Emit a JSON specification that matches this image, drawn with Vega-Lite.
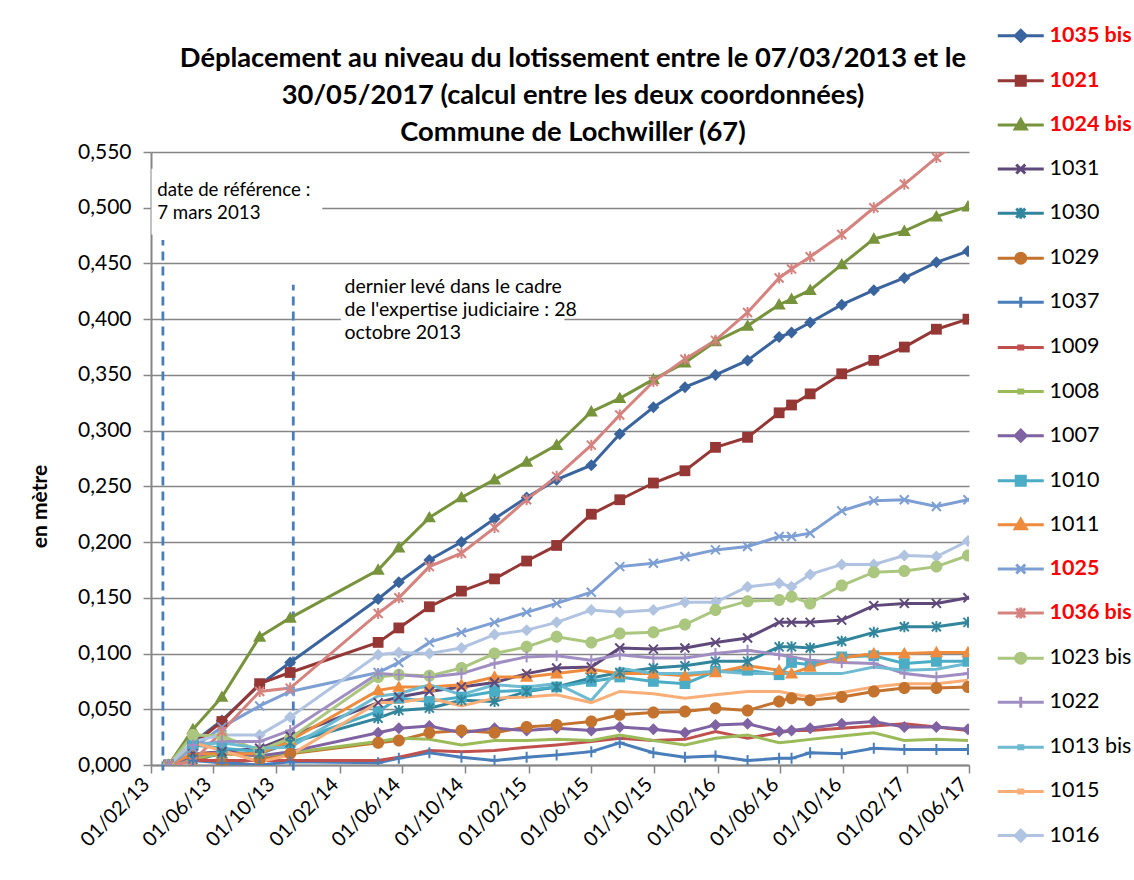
{
"$schema": "https://vega.github.io/schema/vega-lite/v6.json",
"autosize": {"type": "none"},
"width": 818, "height": 613,
"padding": {"left": 151, "top": 152, "right": 165, "bottom": 115},
"background": "white",
"config": {"font": "Lato", "view": {"stroke": null}},
"title": {"text": ["Déplacement au niveau du lotissement entre le 07/03/2013 et le", "30/05/2017 (calcul entre les deux coordonnées)", "Commune de Lochwiller (67)"], "font": "Lato", "fontSize": 27.3, "fontWeight": "bold", "lineHeight": 37, "offset": 10, "anchor": "middle", "frame": "group", "dx": 13, "dy": 131, "color": "#000000"},
"datasets": {"pts": [
{"s":"1035 bis","d":"2013-03-07","v":0},{"s":"1035 bis","d":"2013-04-23","v":0.020},{"s":"1035 bis","d":"2013-06-18","v":0.040},{"s":"1035 bis","d":"2013-08-30","v":0.072},{"s":"1035 bis","d":"2013-10-28","v":0.092},{"s":"1035 bis","d":"2014-04-16","v":0.149},{"s":"1035 bis","d":"2014-05-26","v":0.164},{"s":"1035 bis","d":"2014-07-24","v":0.184},{"s":"1035 bis","d":"2014-09-24","v":0.200},{"s":"1035 bis","d":"2014-11-27","v":0.221},{"s":"1035 bis","d":"2015-01-28","v":0.240},{"s":"1035 bis","d":"2015-03-27","v":0.256},{"s":"1035 bis","d":"2015-06-02","v":0.269},{"s":"1035 bis","d":"2015-07-27","v":0.297},{"s":"1035 bis","d":"2015-09-30","v":0.321},{"s":"1035 bis","d":"2015-11-30","v":0.339},{"s":"1035 bis","d":"2016-01-28","v":0.350},{"s":"1035 bis","d":"2016-03-30","v":0.363},{"s":"1035 bis","d":"2016-05-30","v":0.384},{"s":"1035 bis","d":"2016-06-23","v":0.388},{"s":"1035 bis","d":"2016-07-29","v":0.397},{"s":"1035 bis","d":"2016-09-28","v":0.413},{"s":"1035 bis","d":"2016-11-29","v":0.426},{"s":"1035 bis","d":"2017-01-27","v":0.437},{"s":"1035 bis","d":"2017-03-30","v":0.451},{"s":"1035 bis","d":"2017-05-30","v":0.461},
{"s":"1021","d":"2013-03-07","v":0},{"s":"1021","d":"2013-04-23","v":0.018},{"s":"1021","d":"2013-06-18","v":0.039},{"s":"1021","d":"2013-08-30","v":0.073},{"s":"1021","d":"2013-10-28","v":0.083},{"s":"1021","d":"2014-04-16","v":0.110},{"s":"1021","d":"2014-05-26","v":0.123},{"s":"1021","d":"2014-07-24","v":0.142},{"s":"1021","d":"2014-09-24","v":0.156},{"s":"1021","d":"2014-11-27","v":0.167},{"s":"1021","d":"2015-01-28","v":0.183},{"s":"1021","d":"2015-03-27","v":0.197},{"s":"1021","d":"2015-06-02","v":0.225},{"s":"1021","d":"2015-07-27","v":0.238},{"s":"1021","d":"2015-09-30","v":0.253},{"s":"1021","d":"2015-11-30","v":0.264},{"s":"1021","d":"2016-01-28","v":0.285},{"s":"1021","d":"2016-03-30","v":0.294},{"s":"1021","d":"2016-05-30","v":0.316},{"s":"1021","d":"2016-06-23","v":0.323},{"s":"1021","d":"2016-07-29","v":0.333},{"s":"1021","d":"2016-09-28","v":0.351},{"s":"1021","d":"2016-11-29","v":0.363},{"s":"1021","d":"2017-01-27","v":0.375},{"s":"1021","d":"2017-03-30","v":0.391},{"s":"1021","d":"2017-05-30","v":0.400},
{"s":"1024 bis","d":"2013-03-07","v":0},{"s":"1024 bis","d":"2013-04-23","v":0.032},{"s":"1024 bis","d":"2013-06-18","v":0.061},{"s":"1024 bis","d":"2013-08-30","v":0.115},{"s":"1024 bis","d":"2013-10-28","v":0.132},{"s":"1024 bis","d":"2014-04-16","v":0.175},{"s":"1024 bis","d":"2014-05-26","v":0.195},{"s":"1024 bis","d":"2014-07-24","v":0.222},{"s":"1024 bis","d":"2014-09-24","v":0.240},{"s":"1024 bis","d":"2014-11-27","v":0.256},{"s":"1024 bis","d":"2015-01-28","v":0.272},{"s":"1024 bis","d":"2015-03-27","v":0.287},{"s":"1024 bis","d":"2015-06-02","v":0.317},{"s":"1024 bis","d":"2015-07-27","v":0.329},{"s":"1024 bis","d":"2015-09-30","v":0.346},{"s":"1024 bis","d":"2015-11-30","v":0.361},{"s":"1024 bis","d":"2016-01-28","v":0.380},{"s":"1024 bis","d":"2016-03-30","v":0.394},{"s":"1024 bis","d":"2016-05-30","v":0.413},{"s":"1024 bis","d":"2016-06-23","v":0.418},{"s":"1024 bis","d":"2016-07-29","v":0.426},{"s":"1024 bis","d":"2016-09-28","v":0.449},{"s":"1024 bis","d":"2016-11-29","v":0.472},{"s":"1024 bis","d":"2017-01-27","v":0.479},{"s":"1024 bis","d":"2017-03-30","v":0.492},{"s":"1024 bis","d":"2017-05-30","v":0.501},
{"s":"1031","d":"2013-03-07","v":0},{"s":"1031","d":"2013-04-23","v":0.010},{"s":"1031","d":"2013-06-18","v":0.012},{"s":"1031","d":"2013-08-30","v":0.015},{"s":"1031","d":"2013-10-28","v":0.026},{"s":"1031","d":"2014-04-16","v":0.056},{"s":"1031","d":"2014-05-26","v":0.061},{"s":"1031","d":"2014-07-24","v":0.066},{"s":"1031","d":"2014-09-24","v":0.070},{"s":"1031","d":"2014-11-27","v":0.074},{"s":"1031","d":"2015-01-28","v":0.082},{"s":"1031","d":"2015-03-27","v":0.087},{"s":"1031","d":"2015-06-02","v":0.088},{"s":"1031","d":"2015-07-27","v":0.105},{"s":"1031","d":"2015-09-30","v":0.104},{"s":"1031","d":"2015-11-30","v":0.105},{"s":"1031","d":"2016-01-28","v":0.110},{"s":"1031","d":"2016-03-30","v":0.114},{"s":"1031","d":"2016-05-30","v":0.128},{"s":"1031","d":"2016-06-23","v":0.128},{"s":"1031","d":"2016-07-29","v":0.128},{"s":"1031","d":"2016-09-28","v":0.130},{"s":"1031","d":"2016-11-29","v":0.143},{"s":"1031","d":"2017-01-27","v":0.145},{"s":"1031","d":"2017-03-30","v":0.145},{"s":"1031","d":"2017-05-30","v":0.150},
{"s":"1030","d":"2013-03-07","v":0},{"s":"1030","d":"2013-04-23","v":0.005},{"s":"1030","d":"2013-06-18","v":0.010},{"s":"1030","d":"2013-08-30","v":0.010},{"s":"1030","d":"2013-10-28","v":0.020},{"s":"1030","d":"2014-04-16","v":0.042},{"s":"1030","d":"2014-05-26","v":0.049},{"s":"1030","d":"2014-07-24","v":0.051},{"s":"1030","d":"2014-09-24","v":0.058},{"s":"1030","d":"2014-11-27","v":0.057},{"s":"1030","d":"2015-01-28","v":0.066},{"s":"1030","d":"2015-03-27","v":0.070},{"s":"1030","d":"2015-06-02","v":0.078},{"s":"1030","d":"2015-07-27","v":0.083},{"s":"1030","d":"2015-09-30","v":0.087},{"s":"1030","d":"2015-11-30","v":0.089},{"s":"1030","d":"2016-01-28","v":0.093},{"s":"1030","d":"2016-03-30","v":0.093},{"s":"1030","d":"2016-05-30","v":0.106},{"s":"1030","d":"2016-06-23","v":0.106},{"s":"1030","d":"2016-07-29","v":0.105},{"s":"1030","d":"2016-09-28","v":0.111},{"s":"1030","d":"2016-11-29","v":0.119},{"s":"1030","d":"2017-01-27","v":0.124},{"s":"1030","d":"2017-03-30","v":0.124},{"s":"1030","d":"2017-05-30","v":0.128},
{"s":"1029","d":"2013-03-07","v":0},{"s":"1029","d":"2013-04-23","v":0.008},{"s":"1029","d":"2013-06-18","v":0.001},{"s":"1029","d":"2013-08-30","v":0.005},{"s":"1029","d":"2013-10-28","v":0.010},{"s":"1029","d":"2014-04-16","v":0.020},{"s":"1029","d":"2014-05-26","v":0.022},{"s":"1029","d":"2014-07-24","v":0.029},{"s":"1029","d":"2014-09-24","v":0.031},{"s":"1029","d":"2014-11-27","v":0.029},{"s":"1029","d":"2015-01-28","v":0.034},{"s":"1029","d":"2015-03-27","v":0.036},{"s":"1029","d":"2015-06-02","v":0.039},{"s":"1029","d":"2015-07-27","v":0.045},{"s":"1029","d":"2015-09-30","v":0.047},{"s":"1029","d":"2015-11-30","v":0.048},{"s":"1029","d":"2016-01-28","v":0.051},{"s":"1029","d":"2016-03-30","v":0.049},{"s":"1029","d":"2016-05-30","v":0.057},{"s":"1029","d":"2016-06-23","v":0.060},{"s":"1029","d":"2016-07-29","v":0.058},{"s":"1029","d":"2016-09-28","v":0.061},{"s":"1029","d":"2016-11-29","v":0.066},{"s":"1029","d":"2017-01-27","v":0.069},{"s":"1029","d":"2017-03-30","v":0.069},{"s":"1029","d":"2017-05-30","v":0.070},
{"s":"1037","d":"2013-03-07","v":0},{"s":"1037","d":"2013-04-23","v":0.004},{"s":"1037","d":"2013-06-18","v":0.002},{"s":"1037","d":"2013-08-30","v":0.000},{"s":"1037","d":"2013-10-28","v":0.003},{"s":"1037","d":"2014-04-16","v":0.002},{"s":"1037","d":"2014-05-26","v":0.006},{"s":"1037","d":"2014-07-24","v":0.011},{"s":"1037","d":"2014-09-24","v":0.007},{"s":"1037","d":"2014-11-27","v":0.004},{"s":"1037","d":"2015-01-28","v":0.007},{"s":"1037","d":"2015-03-27","v":0.009},{"s":"1037","d":"2015-06-02","v":0.012},{"s":"1037","d":"2015-07-27","v":0.020},{"s":"1037","d":"2015-09-30","v":0.011},{"s":"1037","d":"2015-11-30","v":0.007},{"s":"1037","d":"2016-01-28","v":0.008},{"s":"1037","d":"2016-03-30","v":0.004},{"s":"1037","d":"2016-05-30","v":0.006},{"s":"1037","d":"2016-06-23","v":0.006},{"s":"1037","d":"2016-07-29","v":0.011},{"s":"1037","d":"2016-09-28","v":0.010},{"s":"1037","d":"2016-11-29","v":0.015},{"s":"1037","d":"2017-01-27","v":0.014},{"s":"1037","d":"2017-03-30","v":0.014},{"s":"1037","d":"2017-05-30","v":0.014},
{"s":"1009","d":"2013-03-07","v":0},{"s":"1009","d":"2013-04-23","v":0.004},{"s":"1009","d":"2013-06-18","v":0.004},{"s":"1009","d":"2013-08-30","v":0.004},{"s":"1009","d":"2013-10-28","v":0.004},{"s":"1009","d":"2014-04-16","v":0.004},{"s":"1009","d":"2014-05-26","v":0.007},{"s":"1009","d":"2014-07-24","v":0.013},{"s":"1009","d":"2014-09-24","v":0.012},{"s":"1009","d":"2014-11-27","v":0.013},{"s":"1009","d":"2015-01-28","v":0.016},{"s":"1009","d":"2015-03-27","v":0.018},{"s":"1009","d":"2015-06-02","v":0.021},{"s":"1009","d":"2015-07-27","v":0.024},{"s":"1009","d":"2015-09-30","v":0.022},{"s":"1009","d":"2015-11-30","v":0.023},{"s":"1009","d":"2016-01-28","v":0.030},{"s":"1009","d":"2016-03-30","v":0.024},{"s":"1009","d":"2016-05-30","v":0.029},{"s":"1009","d":"2016-06-23","v":0.031},{"s":"1009","d":"2016-07-29","v":0.031},{"s":"1009","d":"2016-09-28","v":0.033},{"s":"1009","d":"2016-11-29","v":0.035},{"s":"1009","d":"2017-01-27","v":0.037},{"s":"1009","d":"2017-03-30","v":0.034},{"s":"1009","d":"2017-05-30","v":0.031},
{"s":"1008","d":"2013-03-07","v":0},{"s":"1008","d":"2013-04-23","v":0.006},{"s":"1008","d":"2013-06-18","v":0.010},{"s":"1008","d":"2013-08-30","v":0.008},{"s":"1008","d":"2013-10-28","v":0.011},{"s":"1008","d":"2014-04-16","v":0.021},{"s":"1008","d":"2014-05-26","v":0.024},{"s":"1008","d":"2014-07-24","v":0.023},{"s":"1008","d":"2014-09-24","v":0.018},{"s":"1008","d":"2014-11-27","v":0.022},{"s":"1008","d":"2015-01-28","v":0.022},{"s":"1008","d":"2015-03-27","v":0.023},{"s":"1008","d":"2015-06-02","v":0.022},{"s":"1008","d":"2015-07-27","v":0.027},{"s":"1008","d":"2015-09-30","v":0.022},{"s":"1008","d":"2015-11-30","v":0.018},{"s":"1008","d":"2016-01-28","v":0.024},{"s":"1008","d":"2016-03-30","v":0.027},{"s":"1008","d":"2016-05-30","v":0.020},{"s":"1008","d":"2016-06-23","v":0.021},{"s":"1008","d":"2016-07-29","v":0.023},{"s":"1008","d":"2016-09-28","v":0.026},{"s":"1008","d":"2016-11-29","v":0.029},{"s":"1008","d":"2017-01-27","v":0.022},{"s":"1008","d":"2017-03-30","v":0.023},{"s":"1008","d":"2017-05-30","v":0.022},
{"s":"1007","d":"2013-03-07","v":0},{"s":"1007","d":"2013-04-23","v":0.008},{"s":"1007","d":"2013-06-18","v":0.012},{"s":"1007","d":"2013-08-30","v":0.008},{"s":"1007","d":"2013-10-28","v":0.012},{"s":"1007","d":"2014-04-16","v":0.029},{"s":"1007","d":"2014-05-26","v":0.033},{"s":"1007","d":"2014-07-24","v":0.035},{"s":"1007","d":"2014-09-24","v":0.029},{"s":"1007","d":"2014-11-27","v":0.033},{"s":"1007","d":"2015-01-28","v":0.031},{"s":"1007","d":"2015-03-27","v":0.033},{"s":"1007","d":"2015-06-02","v":0.031},{"s":"1007","d":"2015-07-27","v":0.034},{"s":"1007","d":"2015-09-30","v":0.032},{"s":"1007","d":"2015-11-30","v":0.029},{"s":"1007","d":"2016-01-28","v":0.036},{"s":"1007","d":"2016-03-30","v":0.037},{"s":"1007","d":"2016-05-30","v":0.030},{"s":"1007","d":"2016-06-23","v":0.031},{"s":"1007","d":"2016-07-29","v":0.033},{"s":"1007","d":"2016-09-28","v":0.037},{"s":"1007","d":"2016-11-29","v":0.039},{"s":"1007","d":"2017-01-27","v":0.034},{"s":"1007","d":"2017-03-30","v":0.034},{"s":"1007","d":"2017-05-30","v":0.032},
{"s":"1010","d":"2013-03-07","v":0},{"s":"1010","d":"2013-04-23","v":0.018},{"s":"1010","d":"2013-06-18","v":0.015},{"s":"1010","d":"2013-08-30","v":0.012},{"s":"1010","d":"2013-10-28","v":0.020},{"s":"1010","d":"2014-04-16","v":0.048},{"s":"1010","d":"2014-05-26","v":0.060},{"s":"1010","d":"2014-07-24","v":0.057},{"s":"1010","d":"2014-09-24","v":0.061},{"s":"1010","d":"2014-11-27","v":0.066},{"s":"1010","d":"2015-01-28","v":0.067},{"s":"1010","d":"2015-03-27","v":0.070},{"s":"1010","d":"2015-06-02","v":0.075},{"s":"1010","d":"2015-07-27","v":0.079},{"s":"1010","d":"2015-09-30","v":0.075},{"s":"1010","d":"2015-11-30","v":0.073},{"s":"1010","d":"2016-01-28","v":0.084},{"s":"1010","d":"2016-03-30","v":0.085},{"s":"1010","d":"2016-05-30","v":0.081},{"s":"1010","d":"2016-06-23","v":0.092},{"s":"1010","d":"2016-07-29","v":0.090},{"s":"1010","d":"2016-09-28","v":0.097},{"s":"1010","d":"2016-11-29","v":0.098},{"s":"1010","d":"2017-01-27","v":0.091},{"s":"1010","d":"2017-03-30","v":0.093},{"s":"1010","d":"2017-05-30","v":0.093},
{"s":"1011","d":"2013-03-07","v":0},{"s":"1011","d":"2013-04-23","v":0.010},{"s":"1011","d":"2013-06-18","v":0.010},{"s":"1011","d":"2013-08-30","v":0.010},{"s":"1011","d":"2013-10-28","v":0.022},{"s":"1011","d":"2014-04-16","v":0.067},{"s":"1011","d":"2014-05-26","v":0.070},{"s":"1011","d":"2014-07-24","v":0.070},{"s":"1011","d":"2014-09-24","v":0.072},{"s":"1011","d":"2014-11-27","v":0.079},{"s":"1011","d":"2015-01-28","v":0.079},{"s":"1011","d":"2015-03-27","v":0.082},{"s":"1011","d":"2015-06-02","v":0.086},{"s":"1011","d":"2015-07-27","v":0.082},{"s":"1011","d":"2015-09-30","v":0.082},{"s":"1011","d":"2015-11-30","v":0.080},{"s":"1011","d":"2016-01-28","v":0.083},{"s":"1011","d":"2016-03-30","v":0.089},{"s":"1011","d":"2016-05-30","v":0.085},{"s":"1011","d":"2016-06-23","v":0.082},{"s":"1011","d":"2016-07-29","v":0.088},{"s":"1011","d":"2016-09-28","v":0.096},{"s":"1011","d":"2016-11-29","v":0.100},{"s":"1011","d":"2017-01-27","v":0.100},{"s":"1011","d":"2017-03-30","v":0.101},{"s":"1011","d":"2017-05-30","v":0.101},
{"s":"1025","d":"2013-03-07","v":0},{"s":"1025","d":"2013-04-23","v":0.015},{"s":"1025","d":"2013-06-18","v":0.034},{"s":"1025","d":"2013-08-30","v":0.053},{"s":"1025","d":"2013-10-28","v":0.066},{"s":"1025","d":"2014-04-16","v":0.083},{"s":"1025","d":"2014-05-26","v":0.092},{"s":"1025","d":"2014-07-24","v":0.110},{"s":"1025","d":"2014-09-24","v":0.119},{"s":"1025","d":"2014-11-27","v":0.128},{"s":"1025","d":"2015-01-28","v":0.137},{"s":"1025","d":"2015-03-27","v":0.145},{"s":"1025","d":"2015-06-02","v":0.155},{"s":"1025","d":"2015-07-27","v":0.178},{"s":"1025","d":"2015-09-30","v":0.181},{"s":"1025","d":"2015-11-30","v":0.187},{"s":"1025","d":"2016-01-28","v":0.193},{"s":"1025","d":"2016-03-30","v":0.196},{"s":"1025","d":"2016-05-30","v":0.205},{"s":"1025","d":"2016-06-23","v":0.205},{"s":"1025","d":"2016-07-29","v":0.208},{"s":"1025","d":"2016-09-28","v":0.228},{"s":"1025","d":"2016-11-29","v":0.237},{"s":"1025","d":"2017-01-27","v":0.238},{"s":"1025","d":"2017-03-30","v":0.232},{"s":"1025","d":"2017-05-30","v":0.238},
{"s":"1036 bis","d":"2013-03-07","v":0},{"s":"1036 bis","d":"2013-04-23","v":0.003},{"s":"1036 bis","d":"2013-06-18","v":0.030},{"s":"1036 bis","d":"2013-08-30","v":0.066},{"s":"1036 bis","d":"2013-10-28","v":0.069},{"s":"1036 bis","d":"2014-04-16","v":0.136},{"s":"1036 bis","d":"2014-05-26","v":0.150},{"s":"1036 bis","d":"2014-07-24","v":0.178},{"s":"1036 bis","d":"2014-09-24","v":0.190},{"s":"1036 bis","d":"2014-11-27","v":0.213},{"s":"1036 bis","d":"2015-01-28","v":0.238},{"s":"1036 bis","d":"2015-03-27","v":0.259},{"s":"1036 bis","d":"2015-06-02","v":0.287},{"s":"1036 bis","d":"2015-07-27","v":0.314},{"s":"1036 bis","d":"2015-09-30","v":0.344},{"s":"1036 bis","d":"2015-11-30","v":0.364},{"s":"1036 bis","d":"2016-01-28","v":0.381},{"s":"1036 bis","d":"2016-03-30","v":0.406},{"s":"1036 bis","d":"2016-05-30","v":0.437},{"s":"1036 bis","d":"2016-06-23","v":0.445},{"s":"1036 bis","d":"2016-07-29","v":0.456},{"s":"1036 bis","d":"2016-09-28","v":0.476},{"s":"1036 bis","d":"2016-11-29","v":0.500},{"s":"1036 bis","d":"2017-01-27","v":0.521},{"s":"1036 bis","d":"2017-03-30","v":0.545},{"s":"1036 bis","d":"2017-05-30","v":0.565},
{"s":"1023 bis","d":"2013-03-07","v":0},{"s":"1023 bis","d":"2013-04-23","v":0.027},{"s":"1023 bis","d":"2013-06-18","v":0.026},{"s":"1023 bis","d":"2013-08-30","v":0.013},{"s":"1023 bis","d":"2013-10-28","v":0.024},{"s":"1023 bis","d":"2014-04-16","v":0.079},{"s":"1023 bis","d":"2014-05-26","v":0.081},{"s":"1023 bis","d":"2014-07-24","v":0.080},{"s":"1023 bis","d":"2014-09-24","v":0.087},{"s":"1023 bis","d":"2014-11-27","v":0.100},{"s":"1023 bis","d":"2015-01-28","v":0.106},{"s":"1023 bis","d":"2015-03-27","v":0.115},{"s":"1023 bis","d":"2015-06-02","v":0.110},{"s":"1023 bis","d":"2015-07-27","v":0.118},{"s":"1023 bis","d":"2015-09-30","v":0.119},{"s":"1023 bis","d":"2015-11-30","v":0.126},{"s":"1023 bis","d":"2016-01-28","v":0.139},{"s":"1023 bis","d":"2016-03-30","v":0.147},{"s":"1023 bis","d":"2016-05-30","v":0.148},{"s":"1023 bis","d":"2016-06-23","v":0.151},{"s":"1023 bis","d":"2016-07-29","v":0.145},{"s":"1023 bis","d":"2016-09-28","v":0.161},{"s":"1023 bis","d":"2016-11-29","v":0.173},{"s":"1023 bis","d":"2017-01-27","v":0.174},{"s":"1023 bis","d":"2017-03-30","v":0.178},{"s":"1023 bis","d":"2017-05-30","v":0.188},
{"s":"1022","d":"2013-03-07","v":0},{"s":"1022","d":"2013-04-23","v":0.018},{"s":"1022","d":"2013-06-18","v":0.021},{"s":"1022","d":"2013-08-30","v":0.021},{"s":"1022","d":"2013-10-28","v":0.031},{"s":"1022","d":"2014-04-16","v":0.082},{"s":"1022","d":"2014-05-26","v":0.081},{"s":"1022","d":"2014-07-24","v":0.079},{"s":"1022","d":"2014-09-24","v":0.082},{"s":"1022","d":"2014-11-27","v":0.091},{"s":"1022","d":"2015-01-28","v":0.097},{"s":"1022","d":"2015-03-27","v":0.098},{"s":"1022","d":"2015-06-02","v":0.094},{"s":"1022","d":"2015-07-27","v":0.099},{"s":"1022","d":"2015-09-30","v":0.096},{"s":"1022","d":"2015-11-30","v":0.096},{"s":"1022","d":"2016-01-28","v":0.100},{"s":"1022","d":"2016-03-30","v":0.103},{"s":"1022","d":"2016-05-30","v":0.099},{"s":"1022","d":"2016-06-23","v":0.097},{"s":"1022","d":"2016-07-29","v":0.094},{"s":"1022","d":"2016-09-28","v":0.092},{"s":"1022","d":"2016-11-29","v":0.091},{"s":"1022","d":"2017-01-27","v":0.082},{"s":"1022","d":"2017-03-30","v":0.079},{"s":"1022","d":"2017-05-30","v":0.082},
{"s":"1013 bis","d":"2013-03-07","v":0},{"s":"1013 bis","d":"2013-04-23","v":0.018},{"s":"1013 bis","d":"2013-06-18","v":0.020},{"s":"1013 bis","d":"2013-08-30","v":0.015},{"s":"1013 bis","d":"2013-10-28","v":0.016},{"s":"1013 bis","d":"2014-04-16","v":0.062},{"s":"1013 bis","d":"2014-05-26","v":0.064},{"s":"1013 bis","d":"2014-07-24","v":0.072},{"s":"1013 bis","d":"2014-09-24","v":0.063},{"s":"1013 bis","d":"2014-11-27","v":0.072},{"s":"1013 bis","d":"2015-01-28","v":0.070},{"s":"1013 bis","d":"2015-03-27","v":0.073},{"s":"1013 bis","d":"2015-06-02","v":0.058},{"s":"1013 bis","d":"2015-07-27","v":0.087},{"s":"1013 bis","d":"2015-09-30","v":0.082},{"s":"1013 bis","d":"2015-11-30","v":0.082},{"s":"1013 bis","d":"2016-01-28","v":0.084},{"s":"1013 bis","d":"2016-03-30","v":0.082},{"s":"1013 bis","d":"2016-05-30","v":0.082},{"s":"1013 bis","d":"2016-06-23","v":0.082},{"s":"1013 bis","d":"2016-07-29","v":0.082},{"s":"1013 bis","d":"2016-09-28","v":0.082},{"s":"1013 bis","d":"2016-11-29","v":0.088},{"s":"1013 bis","d":"2017-01-27","v":0.085},{"s":"1013 bis","d":"2017-03-30","v":0.086},{"s":"1013 bis","d":"2017-05-30","v":0.091},
{"s":"1015","d":"2013-03-07","v":0},{"s":"1015","d":"2013-04-23","v":0.020},{"s":"1015","d":"2013-06-18","v":0.013},{"s":"1015","d":"2013-08-30","v":0.003},{"s":"1015","d":"2013-10-28","v":0.009},{"s":"1015","d":"2014-04-16","v":0.056},{"s":"1015","d":"2014-05-26","v":0.056},{"s":"1015","d":"2014-07-24","v":0.060},{"s":"1015","d":"2014-09-24","v":0.053},{"s":"1015","d":"2014-11-27","v":0.060},{"s":"1015","d":"2015-01-28","v":0.061},{"s":"1015","d":"2015-03-27","v":0.063},{"s":"1015","d":"2015-06-02","v":0.056},{"s":"1015","d":"2015-07-27","v":0.066},{"s":"1015","d":"2015-09-30","v":0.064},{"s":"1015","d":"2015-11-30","v":0.060},{"s":"1015","d":"2016-01-28","v":0.063},{"s":"1015","d":"2016-03-30","v":0.066},{"s":"1015","d":"2016-05-30","v":0.066},{"s":"1015","d":"2016-06-23","v":0.064},{"s":"1015","d":"2016-07-29","v":0.061},{"s":"1015","d":"2016-09-28","v":0.065},{"s":"1015","d":"2016-11-29","v":0.070},{"s":"1015","d":"2017-01-27","v":0.073},{"s":"1015","d":"2017-03-30","v":0.073},{"s":"1015","d":"2017-05-30","v":0.076},
{"s":"1016","d":"2013-03-07","v":0},{"s":"1016","d":"2013-04-23","v":0.021},{"s":"1016","d":"2013-06-18","v":0.027},{"s":"1016","d":"2013-08-30","v":0.027},{"s":"1016","d":"2013-10-28","v":0.043},{"s":"1016","d":"2014-04-16","v":0.099},{"s":"1016","d":"2014-05-26","v":0.101},{"s":"1016","d":"2014-07-24","v":0.100},{"s":"1016","d":"2014-09-24","v":0.105},{"s":"1016","d":"2014-11-27","v":0.117},{"s":"1016","d":"2015-01-28","v":0.121},{"s":"1016","d":"2015-03-27","v":0.128},{"s":"1016","d":"2015-06-02","v":0.139},{"s":"1016","d":"2015-07-27","v":0.137},{"s":"1016","d":"2015-09-30","v":0.139},{"s":"1016","d":"2015-11-30","v":0.146},{"s":"1016","d":"2016-01-28","v":0.146},{"s":"1016","d":"2016-03-30","v":0.160},{"s":"1016","d":"2016-05-30","v":0.163},{"s":"1016","d":"2016-06-23","v":0.160},{"s":"1016","d":"2016-07-29","v":0.171},{"s":"1016","d":"2016-09-28","v":0.180},{"s":"1016","d":"2016-11-29","v":0.180},{"s":"1016","d":"2017-01-27","v":0.188},{"s":"1016","d":"2017-03-30","v":0.187},{"s":"1016","d":"2017-05-30","v":0.201}
]},
"data": {"name": "pts"},
"encoding": {
  "x": {"field": "d", "type": "temporal",
    "scale": {"domain": [{"year": 2013, "month": 2, "date": 1}, {"year": 2017, "month": 6, "date": 1}], "nice": false},
    "axis": {"title": null, "format": "%d/%m/%y", "labelAngle": -45, "labelBaseline": "middle", "labelOffset": -5, "labelFontSize": 20, "labelFont": "Lato", "labelColor": "#000000", "grid": false, "domainColor": "#868686", "domainWidth": 2, "tickColor": "#868686", "tickWidth": 1.5, "tickSize": 8, "labelPadding": 8, "labelOverlap": false, "labelBound": false, "labelFlush": false,
      "values": [{"year":2013,"month":2,"date":1},{"year":2013,"month":6,"date":1},{"year":2013,"month":10,"date":1},{"year":2014,"month":2,"date":1},{"year":2014,"month":6,"date":1},{"year":2014,"month":10,"date":1},{"year":2015,"month":2,"date":1},{"year":2015,"month":6,"date":1},{"year":2015,"month":10,"date":1},{"year":2016,"month":2,"date":1},{"year":2016,"month":6,"date":1},{"year":2016,"month":10,"date":1},{"year":2017,"month":2,"date":1},{"year":2017,"month":6,"date":1}]}},
  "y": {"field": "v", "type": "quantitative",
    "scale": {"domain": [0, 0.55], "nice": false},
    "axis": {"title": "en mètre", "titleFont": "Lato", "titleFontSize": 21, "titleFontWeight": "bold", "titleColor": "#000000", "titleX": -111, "titleY": 354, "titleAngle": -90, "titleBaseline": "middle", "titleAlign": "center",
      "values": [0, 0.05, 0.1, 0.15, 0.2, 0.25, 0.3, 0.35, 0.4, 0.45, 0.5, 0.55],
      "labelExpr": "replace(format(datum.value, '.3f'), '.', ',')", "labelFontSize": 21, "labelFont": "Lato", "labelColor": "#000000", "labelPadding": 12,
      "grid": true, "gridColor": "#868686", "gridWidth": 1.5, "domainColor": "#868686", "domainWidth": 2, "tickColor": "#868686", "tickWidth": 1.5, "tickSize": 8}}
},
"layer": [
  {"transform": [{"filter": "datum.s === '1035 bis' && datum.v === 0"}], "mark": {"type": "rect", "fill": "white"},
   "encoding": {"x": {"datum": {"year": 2013, "month": 2, "date": 2}, "type": "temporal"}, "x2": {"datum": {"year": 2013, "month": 12, "date": 29}}, "y": {"datum": 0.476, "type": "quantitative"}, "y2": {"datum": 0.535}}},
  {"transform": [{"filter": "datum.s === '1035 bis' && datum.v === 0"}], "mark": {"type": "rect", "fill": "white"},
   "encoding": {"x": {"datum": {"year": 2014, "month": 2, "date": 3}, "type": "temporal"}, "x2": {"datum": {"year": 2015, "month": 4, "date": 11}}, "y": {"datum": 0.36, "type": "quantitative"}, "y2": {"datum": 0.445}}},
  {"transform": [{"filter": "datum.s === '1035 bis' && datum.v === 0"}], "mark": {"type": "rule", "color": "#4A7EBB", "strokeWidth": 2.8, "strokeDash": [9, 6]},
   "encoding": {"x": {"datum": {"year": 2013, "month": 2, "date": 24}, "type": "temporal"}, "y": {"datum": -0.005, "type": "quantitative"}, "y2": {"datum": 0.471}}},
  {"transform": [{"filter": "datum.s === '1035 bis' && datum.v === 0"}], "mark": {"type": "rule", "color": "#4A7EBB", "strokeWidth": 2.8, "strokeDash": [9, 6]},
   "encoding": {"x": {"datum": {"year": 2013, "month": 11, "date": 3}, "type": "temporal"}, "y": {"datum": -0.005, "type": "quantitative"}, "y2": {"datum": 0.431}}},
  {"mark": {"type": "line", "strokeWidth": 3, "clip": true},
   "encoding": {"color": {"field": "s", "type": "nominal",
      "scale": {"domain": ["1035 bis","1021","1024 bis","1031","1030","1029","1037","1009","1008","1007","1010","1011","1025","1036 bis","1023 bis","1022","1013 bis","1015","1016"],
                "range": ["#3A649E","#953735","#77933C","#5F497A","#31859C","#C4732F","#4A7EBB","#C0504D","#9BBB59","#7E62A1","#4BACC6","#EE8B3C","#7D9FD3","#D4837F","#ABC67F","#A08EC3","#6EBBD1","#F9AE77","#B0C4E2"]},
      "legend": {"orient": "none", "legendX": 859, "legendY": -127, "title": null, "labelFont": "Lato", "labelFontSize": 21.5, "rowPadding": 21.1, "symbolSize": 100, "symbolStrokeWidth": 3, "labelOffset": 18, "columns": 1,
        "encode": {"labels": {"update": {"fill": {"signal": "indexof(['1035 bis','1021','1024 bis','1025','1036 bis'], datum.value) >= 0 ? '#FF0000' : '#000000'"}, "fontWeight": {"signal": "indexof(['1035 bis','1021','1024 bis','1025','1036 bis'], datum.value) >= 0 ? 'bold' : 'normal'"}}}}}},
     "detail": {"field": "s"}}},
  {"transform": [{"filter": "false"}],
   "mark": {"type": "point", "filled": false, "strokeWidth": 3, "opacity": 1},
   "encoding": {"color": {"field": "s", "type": "nominal",
      "legend": {"orient": "none", "legendX": 859, "legendY": -127, "title": null, "labelFont": "Lato", "labelFontSize": 21.5, "rowPadding": 21.1, "symbolSize": 100, "symbolStrokeWidth": 3, "labelOffset": 18, "columns": 1,
        "encode": {"labels": {"update": {"fill": {"signal": "indexof(['1035 bis','1021','1024 bis','1025','1036 bis'], datum.value) >= 0 ? '#FF0000' : '#000000'"}, "fontWeight": {"signal": "indexof(['1035 bis','1021','1024 bis','1025','1036 bis'], datum.value) >= 0 ? 'bold' : 'normal'"}}}}}},
     "shape": {"field": "s", "type": "nominal",
      "legend": {"orient": "none", "legendX": 859, "legendY": -127, "title": null, "labelFont": "Lato", "labelFontSize": 21.5, "rowPadding": 21.1, "symbolSize": 100, "symbolStrokeWidth": 3, "labelOffset": 18, "columns": 1,
        "encode": {"labels": {"update": {"fill": {"signal": "indexof(['1035 bis','1021','1024 bis','1025','1036 bis'], datum.value) >= 0 ? '#FF0000' : '#000000'"}, "fontWeight": {"signal": "indexof(['1035 bis','1021','1024 bis','1025','1036 bis'], datum.value) >= 0 ? 'bold' : 'normal'"}}}}},
      "scale": {"domain": ["1035 bis","1021","1024 bis","1031","1030","1029","1037","1009","1008","1007","1010","1011","1025","1036 bis","1023 bis","1022","1013 bis","1015","1016"],
                "range": [
"M-4.6,0L4.6,0M0,-1.1L1.1,0L0,1.1L-1.1,0ZM0,-0.7L0.7,0L0,0.7L-0.7,0ZM0,-0.35L0.35,0L0,0.35L-0.35,0Z",
"M-4.6,0L4.6,0M-0.9,-0.9L0.9,-0.9L0.9,0.9L-0.9,0.9ZM-0.5,-0.5L0.5,-0.5L0.5,0.5L-0.5,0.5ZM-0.15,-0.15L0.15,-0.15L0.15,0.15L-0.15,0.15Z",
"M-4.6,0L4.6,0M0,-1.1L1.1,0.8L-1.1,0.8ZM0,-0.5L0.55,0.45L-0.55,0.45Z",
"M-4.6,0L4.6,0M-0.9,-0.9L0.9,0.9M-0.9,0.9L0.9,-0.9",
"M-4.6,0L4.6,0M-0.9,-0.9L0.9,0.9M-0.9,0.9L0.9,-0.9M0,-1.1L0,1.1",
"M-4.6,0L4.6,0M1,0A1,1,0,1,1,-1,0A1,1,0,1,1,1,0ZM0.55,0A0.55,0.55,0,1,1,-0.55,0A0.55,0.55,0,1,1,0.55,0ZM0.15,0A0.15,0.15,0,1,1,-0.15,0A0.15,0.15,0,1,1,0.15,0Z",
"M-4.6,0L4.6,0M0,-1.1L0,1.1",
"M-4.6,0L4.6,0M-0.4,-0.3L0.4,-0.3L0.4,0.3L-0.4,0.3Z",
"M-4.6,0L4.6,0M-0.4,-0.3L0.4,-0.3L0.4,0.3L-0.4,0.3Z",
"M-4.6,0L4.6,0M0,-1.1L1.1,0L0,1.1L-1.1,0ZM0,-0.7L0.7,0L0,0.7L-0.7,0ZM0,-0.35L0.35,0L0,0.35L-0.35,0Z",
"M-4.6,0L4.6,0M-0.9,-0.9L0.9,-0.9L0.9,0.9L-0.9,0.9ZM-0.5,-0.5L0.5,-0.5L0.5,0.5L-0.5,0.5ZM-0.15,-0.15L0.15,-0.15L0.15,0.15L-0.15,0.15Z",
"M-4.6,0L4.6,0M0,-1.1L1.1,0.8L-1.1,0.8ZM0,-0.5L0.55,0.45L-0.55,0.45Z",
"M-4.6,0L4.6,0M-0.9,-0.9L0.9,0.9M-0.9,0.9L0.9,-0.9",
"M-4.6,0L4.6,0M-0.9,-0.9L0.9,0.9M-0.9,0.9L0.9,-0.9M0,-1.1L0,1.1",
"M-4.6,0L4.6,0M1,0A1,1,0,1,1,-1,0A1,1,0,1,1,1,0ZM0.55,0A0.55,0.55,0,1,1,-0.55,0A0.55,0.55,0,1,1,0.55,0ZM0.15,0A0.15,0.15,0,1,1,-0.15,0A0.15,0.15,0,1,1,0.15,0Z",
"M-4.6,0L4.6,0M0,-1.1L0,1.1",
"M-4.6,0L4.6,0M-0.4,-0.3L0.4,-0.3L0.4,0.3L-0.4,0.3Z",
"M-4.6,0L4.6,0M-0.4,-0.3L0.4,-0.3L0.4,0.3L-0.4,0.3Z",
"M-4.6,0L4.6,0M0,-1.1L1.1,0L0,1.1L-1.1,0ZM0,-0.7L0.7,0L0,0.7L-0.7,0ZM0,-0.35L0.35,0L0,0.35L-0.35,0Z"]}}}},
  {"transform": [{"filter": {"field": "s", "oneOf": ["1035 bis", "1007", "1016"]}}],
   "mark": {"type": "point", "shape": "M0,-1L1,0L0,1L-1,0Z", "filled": true, "size": 144, "opacity": 1, "clip": true},
   "encoding": {"color": {"field": "s", "type": "nominal", "legend": null}}},
  {"transform": [{"filter": {"field": "s", "oneOf": ["1021", "1010"]}}],
   "mark": {"type": "point", "shape": "M-0.9,-0.9L0.9,-0.9L0.9,0.9L-0.9,0.9Z", "filled": true, "size": 144, "opacity": 1, "clip": true},
   "encoding": {"color": {"field": "s", "type": "nominal", "legend": null}}},
  {"transform": [{"filter": {"field": "s", "oneOf": ["1024 bis", "1011"]}}],
   "mark": {"type": "point", "shape": "M0,-1.1L1.1,0.8L-1.1,0.8Z", "filled": true, "size": 144, "opacity": 1, "clip": true},
   "encoding": {"color": {"field": "s", "type": "nominal", "legend": null}}},
  {"transform": [{"filter": {"field": "s", "oneOf": ["1029", "1023 bis"]}}],
   "mark": {"type": "point", "shape": "M1,0A1,1,0,1,1,-1,0A1,1,0,1,1,1,0Z", "filled": true, "size": 144, "opacity": 1, "clip": true},
   "encoding": {"color": {"field": "s", "type": "nominal", "legend": null}}},
  {"transform": [{"filter": {"field": "s", "oneOf": ["1031", "1025"]}}],
   "mark": {"type": "point", "shape": "M-0.9,-0.9L0.9,0.9M-0.9,0.9L0.9,-0.9", "filled": false, "size": 100, "strokeWidth": 2, "opacity": 1, "clip": true},
   "encoding": {"color": {"field": "s", "type": "nominal", "legend": null}}},
  {"transform": [{"filter": {"field": "s", "oneOf": ["1030", "1036 bis"]}}],
   "mark": {"type": "point", "shape": "M-0.9,-0.9L0.9,0.9M-0.9,0.9L0.9,-0.9M0,-1.1L0,1.1", "filled": false, "size": 100, "strokeWidth": 2, "opacity": 1, "clip": true},
   "encoding": {"color": {"field": "s", "type": "nominal", "legend": null}}},
  {"transform": [{"filter": {"field": "s", "oneOf": ["1037", "1022"]}}],
   "mark": {"type": "point", "shape": "M-1,0L1,0M0,-1.1L0,1.1", "filled": false, "size": 100, "strokeWidth": 2, "opacity": 1, "clip": true},
   "encoding": {"color": {"field": "s", "type": "nominal", "legend": null}}},
  {"transform": [{"filter": "datum.s === '1035 bis' && datum.v === 0"}], "mark": {"type": "text", "text": ["date de référence :", "\u00a07 mars 2013"], "font": "Lato", "fontSize": 18.7, "lineHeight": 23, "align": "left", "baseline": "top", "color": "#000000"},
   "encoding": {"x": {"datum": {"year": 2013, "month": 2, "date": 13}, "type": "temporal"}, "y": {"datum": 0.524, "type": "quantitative"}}},
  {"transform": [{"filter": "datum.s === '1035 bis' && datum.v === 0"}], "mark": {"type": "text", "text": ["dernier levé dans le cadre", "de l'expertise judiciaire : 28", "octobre 2013"], "font": "Lato", "fontSize": 19.5, "lineHeight": 23, "align": "left", "baseline": "top", "color": "#000000"},
   "encoding": {"x": {"datum": {"year": 2014, "month": 2, "date": 10}, "type": "temporal"}, "y": {"datum": 0.437, "type": "quantitative"}}}
]
}
